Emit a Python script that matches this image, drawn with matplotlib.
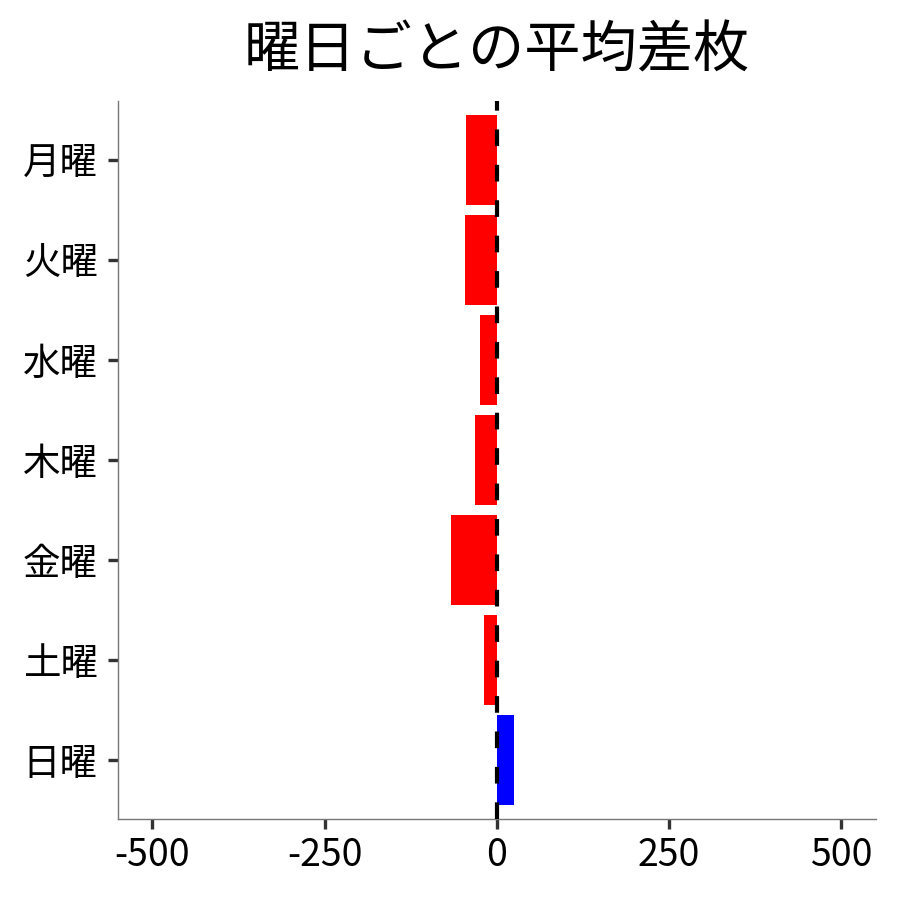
import matplotlib
matplotlib.use("Agg")
import matplotlib.pyplot as plt

plt.rcParams['font.family'] = ['Noto Sans CJK JP', 'DejaVu Sans']

# 曜日ごとの平均差枚
days = ['月曜', '火曜', '水曜', '木曜', '金曜', '土曜', '日曜']
avg_diff = [-44, -46, -24, -31, -67, -19, 25]
colors = ['red' if v < 0 else 'blue' for v in avg_diff]

fig = plt.figure(figsize=(9, 9), dpi=100)
ax = fig.add_axes([0.131, 0.09, 0.842, 0.798])

ypos = list(range(len(days)))[::-1]
ax.barh(ypos, avg_diff, height=0.9, color=colors, zorder=2)
ax.axvline(0, color='black', lw=3, dashes=(4, 4.5), zorder=3)

ax.set_xlim(-550, 550)
ax.set_ylim(-0.59, 6.59)
ax.set_xticks([-500, -250, 0, 250, 500])
ax.set_xticklabels(['-500', '-250', '0', '250', '500'])
ax.set_yticks(ypos)
ax.set_yticklabels(days)

for s in ['top', 'right']:
    ax.spines[s].set_visible(False)
for s in ['left', 'bottom']:
    ax.spines[s].set_color('#777777')
    ax.spines[s].set_linewidth(1)

ax.tick_params(axis='both', labelsize=27, colors='#333333', labelcolor='black',
               length=7.5, width=2.4)
ax.tick_params(axis='y', pad=7)
ax.tick_params(axis='x', pad=5)

ax.set_title('曜日ごとの平均差枚', fontsize=40.5, pad=24)

fig.savefig('out.png', dpi=100)
